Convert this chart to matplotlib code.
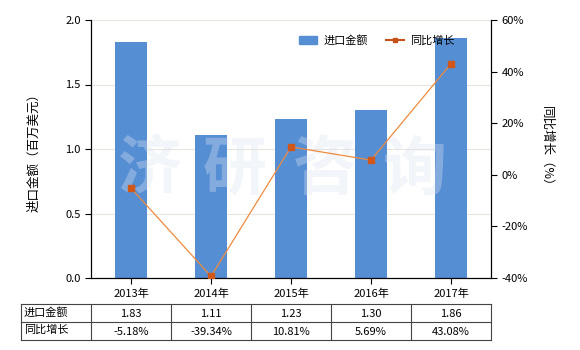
import matplotlib.pyplot as plt
from matplotlib.lines import Line2D
from matplotlib.patches import Patch
import numpy as np

plt.rcParams['font.family'] = ['Noto Sans CJK SC', 'DejaVu Sans']

years = ['2013年', '2014年', '2015年', '2016年', '2017年']
amounts = [1.83, 1.11, 1.23, 1.30, 1.86]
growth = [-5.18, -39.34, 10.81, 5.69, 43.08]
amount_labels = ['1.83', '1.11', '1.23', '1.30', '1.86']
growth_labels = ['-5.18%', '-39.34%', '10.81%', '5.69%', '43.08%']

W, H = 580, 350
fig = plt.figure(figsize=(5.8, 3.5), dpi=100)
ax = fig.add_axes([91 / W, 1 - 278 / H, 400 / W, 258 / H])
x = np.arange(len(years))

ax.bar(x, amounts, width=0.4, color='#568ED4', zorder=2)
ax.set_xlim(-0.5, 4.5)
ax.set_ylim(0, 2.0)
ax.set_yticks([0, 0.5, 1.0, 1.5, 2.0])
ax.set_yticklabels(['0.0', '0.5', '1.0', '1.5', '2.0'])
ax.set_xticks(x)
ax.set_xticklabels(years)
ax.grid(axis='y', color='#E6E6DE', linewidth=0.8, zorder=0)
ax.spines['top'].set_visible(False)
ax.tick_params(labelsize=8, length=4, width=0.8)
ax.set_ylabel('进口金额（百万美元）', fontsize=9, labelpad=18)

# watermark, over the bars but under the line
for cx, ch in zip([150, 235, 325, 415], '济研咨询'):
    ax.text(cx / W, 1 - 170 / H, ch, transform=fig.transFigure, fontsize=46,
            fontweight='bold', color='#DCE3EE', alpha=0.35,
            ha='center', va='center', zorder=2.5)

ax2 = ax.twinx()
ax2.plot(x, growth, color='#EE8A3C', linewidth=0.9, marker='s', markersize=4,
         markerfacecolor='#D0561A', markeredgecolor='#D0561A', zorder=3)
ax2.set_ylim(-40, 60)
ax2.set_yticks([-40, -20, 0, 20, 40, 60])
ax2.set_yticklabels(['-40%', '-20%', '0%', '20%', '40%', '60%'])
ax2.spines['top'].set_visible(False)
ax2.tick_params(labelsize=8, length=4, width=0.8)
ax2.set_ylabel('同比增长（%）', fontsize=9, rotation=270, labelpad=18)

handles = [Patch(color='#568ED4'),
           Line2D([], [], color='#C8501A', linewidth=1.5, marker='s', markersize=3)]
ax2.legend(handles, ['进口金额', '同比增长'], loc='upper right',
           bbox_to_anchor=(0.935, 0.98), ncol=2, frameon=False, fontsize=8,
           handlelength=1.6, handletextpad=0.6, columnspacing=1.6)

# table below the chart
axt = fig.add_axes([21 / W, 1 - 340 / H, 470 / W, 36 / H])
axt.set_xlim(21, 491)
axt.set_ylim(0, 2)
axt.axis('off')
cols = [21, 91, 171, 251, 331, 411, 491]
for c in cols:
    axt.plot([c, c], [0, 2], color='#444444', linewidth=0.8, clip_on=False)
for r in [0, 1, 2]:
    axt.plot([21, 491], [r, r], color='#444444', linewidth=0.8, clip_on=False)
axt.text(24, 1.55, '进口金额', fontsize=8, ha='left', va='center')
axt.text(24, 0.55, '同比增长', fontsize=8, ha='left', va='center')
for i in range(len(years)):
    cx = (cols[i + 1] + cols[i + 2]) / 2
    axt.text(cx, 1.45, amount_labels[i], fontsize=8, ha='center', va='center')
    axt.text(cx, 0.45, growth_labels[i], fontsize=8, ha='center', va='center')

fig.savefig('out.png', dpi=100)
